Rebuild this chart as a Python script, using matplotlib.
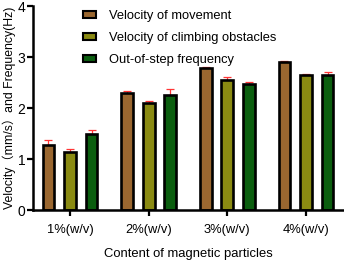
import matplotlib
matplotlib.use("Agg")
import matplotlib.pyplot as plt
import numpy as np

categories = ["1%(w/v)", "2%(w/v)", "3%(w/v)", "4%(w/v)"]
series_names = ["Velocity of movement", "Velocity of climbing obstacles", "Out-of-step frequency"]
movement = [1.27, 2.30, 2.79, 2.90]
movement_err = [0.10, 0.03, 0.02, 0.02]
climbing = [1.13, 2.09, 2.55, 2.64]
climbing_err = [0.07, 0.04, 0.05, 0.02]
frequency = [1.49, 2.26, 2.48, 2.64]
frequency_err = [0.08, 0.11, 0.04, 0.06]
colors = ["#9A6730", "#8A8A12", "#0B5E0F"]

plt.rcParams['font.family'] = ['Liberation Sans', 'Noto Sans CJK SC', 'DejaVu Sans']

fig = plt.figure(figsize=(3.44, 2.61), dpi=100)
ax = fig.add_axes([0.096, 0.195, 0.901, 0.782])

x = np.arange(len(categories))
offset = 0.274
width = 0.15
data = [(movement, movement_err), (climbing, climbing_err), (frequency, frequency_err)]
for i, ((vals, errs), name, c) in enumerate(zip(data, series_names, colors)):
    pos = x + (i - 1) * offset
    ax.bar(pos, vals, width=width, color=c, edgecolor='black', linewidth=1.9, label=name, zorder=2)
    ax.errorbar(pos, vals, yerr=[np.zeros(len(errs)), errs], fmt='none', ecolor='#ff3535',
                elinewidth=0.9, capsize=3.2, capthick=0.9, zorder=1)

ax.set_xlim(-0.47, 3.47)
ax.set_ylim(0, 4)
ax.set_yticks([0, 1, 2, 3, 4])
ax.set_xticks(x)
ax.set_xticklabels(categories, fontsize=9.3)
ax.tick_params(axis='y', labelsize=10, width=1.6, length=4, pad=1.5)
ax.tick_params(axis='x', width=1.6, length=4, pad=6)
for s in ['top', 'right']:
    ax.spines[s].set_visible(False)
for s in ['left', 'bottom']:
    ax.spines[s].set_linewidth(1.8)

ax.set_ylabel("Velocity（mm/s）and Frequency(Hz)", fontsize=8.8, labelpad=1)
ax.set_xlabel("Content of magnetic particles", fontsize=9.4, labelpad=9)

leg = ax.legend(loc='upper left', bbox_to_anchor=(0.125, 1.035), frameon=False, fontsize=9.3,
                handlelength=1.0, handleheight=0.45, labelspacing=0.75, handletextpad=1.0)
for h in leg.legend_handles:
    h.set_linewidth(1.5)

fig.savefig("out.png", dpi=100)
